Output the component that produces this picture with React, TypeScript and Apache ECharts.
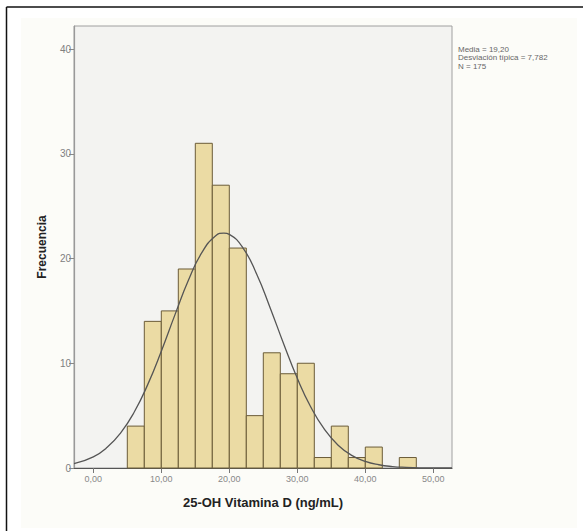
import React, { useEffect, useRef } from "react";
import * as echarts from "echarts";

const binStarts = [5, 7.5, 10, 12.5, 15, 17.5, 20, 22.5, 25, 27.5, 30, 32.5, 35, 37.5, 40, 42.5, 45];
const binWidth = 2.5;
const counts = [4, 14, 15, 19, 31, 27, 21, 5, 11, 9, 10, 1, 4, 1, 2, 0, 1];

const curveX = [-2.84, 0, 2, 4, 6, 8, 10, 12, 14, 16, 18, 19.2, 20, 22, 24, 26, 28, 30, 32, 34, 36, 38, 40, 42, 44, 46, 48, 50, 52.75];
const curveY = [0.41, 1.07, 1.95, 3.33, 5.32, 7.96, 11.15, 14.62, 17.94, 20.61, 22.17, 22.43, 22.31, 21.02, 18.55, 15.31, 11.84, 8.56, 5.8, 3.68, 2.18, 1.21, 0.63, 0.31, 0.14, 0.06, 0.02, 0.01, 0.0];

const xTicks = [0, 10, 20, 30, 40, 50];
const yTicks = [0, 10, 20, 30, 40];
const statLines = ["Media = 19,20", "Desviación típica = 7,782", "N = 175"];

const FONT = "'Liberation Sans', Arial, sans-serif";

export default function App() {
  const ref = useRef<HTMLDivElement>(null);
  useEffect(() => {
    if (!ref.current) return;
    const chart = echarts.init(ref.current, null, { renderer: "svg" });
    const bins = binStarts.map((s, i) => [s, s + binWidth, counts[i]]);
    chart.setOption({
      animation: false,
      backgroundColor: "#ffffff",
      textStyle: { fontFamily: FONT },
      graphic: [
        { type: "rect", z: -10, silent: true, shape: { x: 21, y: 18, width: 556, height: 510 }, style: { fill: "#fcfcf8" } },
        { type: "line", silent: true, shape: { x1: 6.5, y1: 7, x2: 6.5, y2: 531 }, style: { stroke: "#111", lineWidth: 1.5 } },
        { type: "line", silent: true, shape: { x1: 6.5, y1: 7, x2: 583, y2: 7 }, style: { stroke: "#111", lineWidth: 1.5 } },
        {
          type: "text",
          left: 458,
          top: 45,
          style: {
            text: statLines.join("\n"),
            fill: "#666",
            font: "8px " + FONT,
            lineHeight: 8.5,
          },
        },
      ],
      grid: {
        left: 74,
        top: 26,
        right: 131,
        bottom: 63,
        show: true,
        backgroundColor: "#f3f3f1",
        borderColor: "#a0a0a0",
        borderWidth: 1,
      },
      xAxis: {
        type: "value",
        min: -2.84,
        max: 52.75,
        name: "25-OH Vitamina D (ng/mL)",
        nameLocation: "middle",
        nameGap: 28,
        nameTextStyle: { fontSize: 13, fontWeight: "bold", color: "#222", fontFamily: FONT },
        axisLine: { onZero: false, lineStyle: { color: "#555", width: 1.2 } },
        axisTick: { show: true, length: 5, customValues: xTicks, lineStyle: { color: "#777" } },
        axisLabel: {
          customValues: xTicks,
          margin: 6,
          fontSize: 9,
          color: "#888",
          fontFamily: FONT,
          formatter: (v: number) => v.toFixed(2).replace(".", ","),
        },
        splitLine: { show: false },
      },
      yAxis: {
        type: "value",
        min: 0,
        max: 42.2,
        name: "Frecuencia",
        nameLocation: "middle",
        nameGap: 26,
        nameTextStyle: { fontSize: 12, fontWeight: "bold", color: "#222", fontFamily: FONT },
        axisLine: { show: true, onZero: false, lineStyle: { color: "#999", width: 1.2 } },
        axisTick: { show: true, length: 5, customValues: yTicks, lineStyle: { color: "#888" } },
        axisLabel: {
          customValues: yTicks,
          margin: 3,
          fontSize: 10,
          color: "#808080",
          fontFamily: FONT,
        },
        splitLine: { show: false },
      },
      series: [
        {
          type: "custom",
          data: bins,
          encode: { x: [0, 1], y: 2 },
          renderItem: (params: any, api: any) => {
            const h = api.value(2);
            if (!h) return null;
            const p0 = api.coord([api.value(0), h]);
            const p1 = api.coord([api.value(1), 0]);
            return {
              type: "rect",
              shape: { x: p0[0], y: p0[1], width: p1[0] - p0[0], height: p1[1] - p0[1] },
              style: { fill: "#ebdba4", stroke: "#6b5c38", lineWidth: 1 },
            };
          },
        },
        {
          type: "line",
          data: curveX.map((x, i) => [x, curveY[i]]),
          smooth: true,
          showSymbol: false,
          lineStyle: { color: "#555", width: 1.3 },
          z: 5,
        },
      ],
    });
    return () => chart.dispose();
  }, []);
  return (
    <div
      ref={ref}
      style={{ position: "fixed", left: 0, top: 0, width: 583, height: 531 }}
    />
  );
}
